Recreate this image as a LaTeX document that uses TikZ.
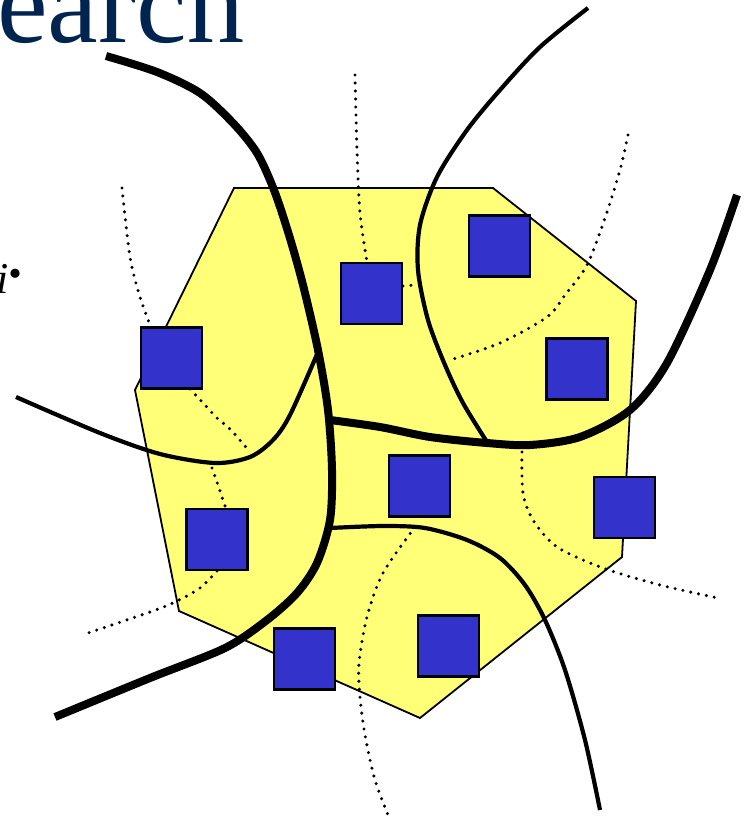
\documentclass[tikz,border=0pt]{standalone}
\usepackage{fontspec}
\setmainfont{Liberation Serif}
\definecolor{titleblue}{RGB}{0,36,80}
\definecolor{sitefill}{RGB}{51,51,204}
\definecolor{regionfill}{RGB}{255,255,120}
\tikzset{
  site/.style={
    rectangle, draw=black, line width=2.4pt, fill=sitefill, inner sep=0pt, minimum size=61pt
  },
  region/.style={
    draw=black, line width=1.8pt, fill=regionfill
  },
  main cut/.style={
    draw=black, line width=8pt
  },
  side cut/.style={
    draw=black, line width=4.2pt
  },
  link/.style={
    draw=black, line width=3.4pt, line cap=round, dash pattern=on 0pt off 8pt
  }
}

\begin{document}
\begin{tikzpicture}[x=1pt, y=-1pt]
\useasboundingbox (0,0) rectangle (753,825);
\clip (0,0) rectangle (753,825);

% cut-off text at the edges
\node[anchor=base west, inner sep=0pt, text=titleblue, font=\fontsize{114}{114}\selectfont] (title) at (-3,42) {earch};
\node[anchor=base west, inner sep=0pt, font=\fontsize{44}{44}\selectfont\itshape] (idx) at (-4,293) {i};
\node[anchor=base west, inner sep=0pt, font=\fontsize{56}{56}\selectfont\bfseries] (stop) at (8,277) {.};

% yellow region
\draw[region] (234,188) -- (493,188) -- (636,301) -- (622,557) -- (420,718) -- (179,611) -- (135,390) -- cycle;

% dotted links
\draw[link] plot[smooth] coordinates {(122,188) (130,257) (140,297) (152,330)};
\draw[link] plot[smooth] coordinates {(190,389) (205,405) (217,418) (231,430) (250,452)};
\draw[link] plot[smooth] coordinates {(212,468) (219,488) (226,509)};
\draw[link] plot[smooth] coordinates {(217,571) (200,588) (175,602) (150,612) (88,633)};
\draw[link] plot[smooth] coordinates {(355,75) (357,150) (360,213) (367,262)};
\draw[link] (403,286) -- (414,285);
\draw[link] plot[smooth] coordinates {(628,135) (620,170) (605,218) (587,265) (565,295) (547,317) (500,343) (450,360)};
\draw[link] plot[smooth] coordinates {(522,452) (523,493) (533,520) (557,547) (603,568) (660,585) (718,598)};
\draw[link] plot[smooth] coordinates {(415,527) (383,573) (367,617) (359,663) (360,697) (365,735) (375,780) (390,820)};

% thick cuts
\draw[main cut] plot[smooth] coordinates {(106,56) (157,72) (200,93) (233,123) (257,153) (274,190) (289,235) (303,285) (318,350) (328,410) (332,470) (330,520) (317,563) (297,593) (267,620) (225,648) (150,678) (55,717)};
\draw[main cut] plot[smooth] coordinates {(330,420) (380,427) (430,437) (487,443) (530,445) (580,437) (630,410) (667,363) (710,270) (737,195)};

% thin cuts
\draw[side cut] plot[smooth] coordinates {(16,397) (100,433) (160,454) (215,463) (250,457) (273,440) (290,415) (318,352)};
\draw[side cut] plot[smooth] coordinates {(588,8) (540,47) (500,90) (467,130) (437,177) (420,225) (418,270) (428,320) (445,365) (463,403) (487,442)};
\draw[side cut] plot[smooth] coordinates {(330,528) (383,526) (425,528) (467,540) (500,558) (525,585) (545,620) (565,670) (585,740) (600,810)};

% sites
\node[site] (s1) at (171.5,358) {};
\node[site] (s2) at (371.5,293.5) {};
\node[site] (s3) at (499.5,246) {};
\node[site] (s4) at (577,369) {};
\node[site] (s5) at (419.5,486) {};
\node[site] (s6) at (217,539.5) {};
\node[site] (s7) at (304.5,659) {};
\node[site] (s8) at (448.5,646) {};
\node[site] (s9) at (624.5,507.5) {};

\end{tikzpicture}
\end{document}
